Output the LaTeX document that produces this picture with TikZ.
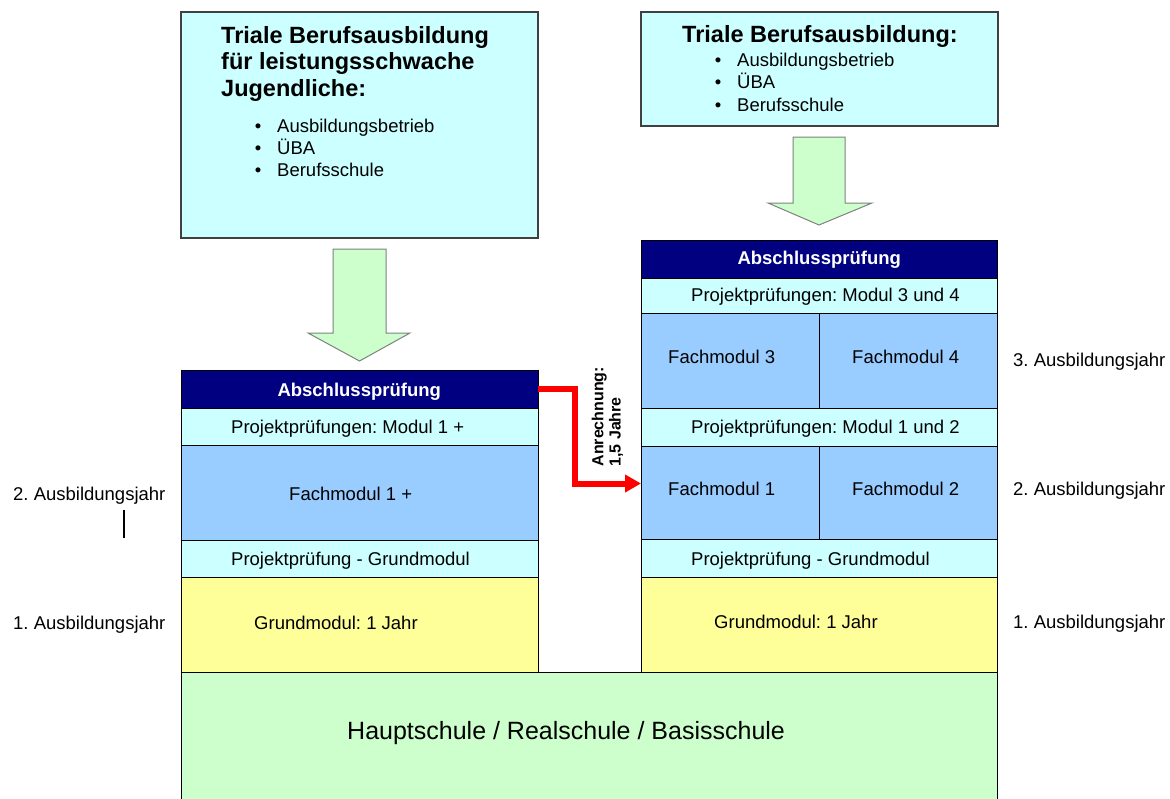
\documentclass[tikz,border=0pt]{standalone}
\usepackage{fontspec}
\setmainfont{Liberation Sans}
\usetikzlibrary{arrows.meta}
\definecolor{cyanbox}{HTML}{CCFFFF}
\definecolor{navybox}{HTML}{000080}
\definecolor{bluebox}{HTML}{99CCFF}
\definecolor{yellowbox}{HTML}{FFFF99}
\definecolor{greenbox}{HTML}{CCFFCC}
\definecolor{edgegray}{HTML}{404040}
\definecolor{arrowgray}{HTML}{808080}
\frenchspacing
\begin{document}
\begin{tikzpicture}[x=1pt,y=-1pt,
  cell/.style={draw=black, line width=1pt, inner sep=0pt, outer sep=0pt, rectangle},
  topbox/.style={draw=edgegray, line width=1.2pt, fill=cyanbox, inner sep=0pt, outer sep=0pt, rectangle},
  txt/.style={font=\fontsize{18.5}{22}\selectfont, inner sep=0pt, anchor=base west},
  btxt/.style={font=\fontsize{18.5}{22}\selectfont\bfseries, inner sep=0pt, anchor=base west, text=white},
  ttl/.style={font=\fontsize{23.5}{27}\selectfont\bfseries, inner sep=0pt, anchor=base west},
  bul/.style={font=\fontsize{18.5}{22}\selectfont, inner sep=0pt, anchor=base},
  blockarrow/.style={draw=arrowgray, line width=1pt, fill=greenbox, line join=miter},
  credit/.style={draw=red, line width=6pt, line join=miter, -{Triangle[length=16pt,width=17pt]}}
]
\useasboundingbox (0,0) rectangle (1170,798);
\clip (0,0) rectangle (1170,798);
\fill[white] (0,0) rectangle (1170,798);

% ---------- top boxes ----------
\node[topbox, minimum width=357pt, minimum height=226pt] (top1) at (359.5,125) {};
\node[ttl] (t1a) at (221,43.5) {Triale Berufsausbildung};
\node[ttl] (t1b) at (221,69.5) {für leistungsschwache};
\node[ttl] (t1c) at (221,96) {Jugendliche:};
\node[bul] (b1a) at (258,132.7) {•};
\node[txt] (l1a) at (277,132.7) {Ausbildungsbetrieb};
\node[bul] (b1b) at (258,154.7) {•};
\node[txt] (l1b) at (277,154.7) {ÜBA};
\node[bul] (b1c) at (258,176.7) {•};
\node[txt] (l1c) at (277,176.7) {Berufsschule};

\node[topbox, minimum width=357pt, minimum height=114pt] (top2) at (819.5,69) {};
\node[ttl] (t2a) at (682,42.7) {Triale Berufsausbildung:};
\node[bul] (b2a) at (718,66) {•};
\node[txt] (l2a) at (737,66) {Ausbildungsbetrieb};
\node[bul] (b2b) at (718,88.5) {•};
\node[txt] (l2b) at (737,88.5) {ÜBA};
\node[bul] (b2c) at (718,111) {•};
\node[txt] (l2c) at (737,111) {Berufsschule};

% ---------- block arrows ----------
\draw[blockarrow] (333,249) -- (386,249) -- (386,333) -- (410,333) -- (359.5,361)
  -- (308,333) -- (333,333) -- cycle;
\draw[blockarrow] (793,137) -- (845,137) -- (845,203) -- (872,203) -- (819,225)
  -- (768,203) -- (793,203) -- cycle;

% ---------- base school box ----------
\node[cell, fill=greenbox, minimum width=816pt, minimum height=133pt] (school) at (589,738.5) {};
\node[txt, font=\fontsize{25}{29}\selectfont] (schooltxt) at (347,739) {Hauptschule / Realschule / Basisschule};

% ---------- left stack ----------
\node[cell, fill=navybox, minimum width=357pt, minimum height=38pt] (abs1) at (359.5,389) {};
\node[cell, fill=cyanbox, minimum width=357pt, minimum height=37pt] (pp1) at (359.5,426.5) {};
\node[cell, fill=bluebox, minimum width=357pt, minimum height=95pt] (fm1) at (359.5,492.5) {};
\node[cell, fill=cyanbox, minimum width=357pt, minimum height=37pt] (pg1) at (359.5,558.5) {};
\node[cell, fill=yellowbox, minimum width=357pt, minimum height=95pt] (gm1) at (359.5,624.5) {};
\node[btxt] (abs1t) at (277.3,396) {Abschlussprüfung};
\node[txt] (pp1t) at (231,433.3) {Projektprüfungen: Modul 1 +};
\node[txt] (fm1t) at (289,500) {Fachmodul 1 +};
\node[txt] (pg1t) at (231,565) {Projektprüfung - Grundmodul};
\node[txt] (gm1t) at (254,629) {Grundmodul: 1 Jahr};

% ---------- right stack ----------
\node[cell, fill=navybox, minimum width=356pt, minimum height=38pt] (abs2) at (819,259) {};
\node[cell, fill=cyanbox, minimum width=356pt, minimum height=35pt] (pp34) at (819,295.5) {};
\node[cell, fill=bluebox, minimum width=178pt, minimum height=95pt] (fm3) at (730,360.5) {};
\node[cell, fill=bluebox, minimum width=178pt, minimum height=95pt] (fm4) at (908,360.5) {};
\node[cell, fill=cyanbox, minimum width=356pt, minimum height=38pt] (pp12) at (819,427) {};
\node[cell, fill=bluebox, minimum width=178pt, minimum height=93pt] (fmA) at (730,492.5) {};
\node[cell, fill=bluebox, minimum width=178pt, minimum height=93pt] (fmB) at (908,492.5) {};
\node[cell, fill=cyanbox, minimum width=356pt, minimum height=38pt] (pg2) at (819,558) {};
\node[cell, fill=yellowbox, minimum width=356pt, minimum height=95pt] (gm2) at (819,624.5) {};
\node[btxt] (abs2t) at (737.3,264.3) {Abschlussprüfung};
\node[txt] (pp34t) at (691,301.7) {Projektprüfungen: Modul 3 und 4};
\node[txt] (fm3t) at (668,363.3) {Fachmodul 3};
\node[txt] (fm4t) at (852,363.3) {Fachmodul 4};
\node[txt] (pp12t) at (691,433.3) {Projektprüfungen: Modul 1 und 2};
\node[txt] (fmAt) at (668,495) {Fachmodul 1};
\node[txt] (fmBt) at (852,495) {Fachmodul 2};
\node[txt] (pg2t) at (691,565) {Projektprüfung - Grundmodul};
\node[txt] (gm2t) at (714,628.3) {Grundmodul: 1 Jahr};

% ---------- year labels ----------
\node[txt] (y2l) at (13,500) {2. Ausbildungsjahr};
\node[txt] (y1l) at (13,629) {1. Ausbildungsjahr};
\draw[line width=1.5pt] (124,510) -- (124,538);
\node[txt] (y3r) at (1013,366) {3. Ausbildungsjahr};
\node[txt] (y2r) at (1013,495) {2. Ausbildungsjahr};
\node[txt] (y1r) at (1013,628) {1. Ausbildungsjahr};

% ---------- credit arrow ----------
\coordinate (bend1) at (575,389);
\coordinate (bend2) at (575,483.5);
\coordinate (rtip) at (641,483.5);
\draw[credit] (abs1.east) -- (bend1) -- (bend2) -- (rtip);
\node[inner sep=0pt, rotate=90, anchor=base west, font=\fontsize{16}{19}\selectfont\bfseries] (anr1) at (603.3,466.7) {Anrechnung:};
\node[inner sep=0pt, rotate=90, anchor=base west, font=\fontsize{16}{19}\selectfont\bfseries] (anr2) at (620.5,466.7) {1,5 Jahre};
\end{tikzpicture}
\end{document}
